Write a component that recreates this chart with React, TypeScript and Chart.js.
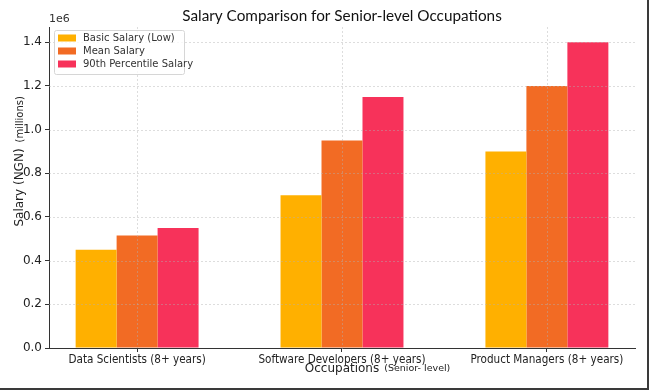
import React, { useEffect, useRef } from "react";
import { Chart, registerables } from "chart.js";

Chart.register(...registerables);

const categories = [
  "Data Scientists (8+ years)",
  "Software Developers (8+ years)",
  "Product Managers (8+ years)",
];
const basicSalary = [450000, 700000, 900000];
const meanSalary = [515000, 950000, 1200000];
const p90Salary = [550000, 1150000, 1400000];
const yTicks = [0, 200000, 400000, 600000, 800000, 1000000, 1200000, 1400000];
const seriesNames = ["Basic Salary (Low)", "Mean Salary", "90th Percentile Salary"];
const seriesColors = ["#FFB000", "#F26B24", "#F7325A"];

const W = 650;
const H = 391;
const FONT = "'DejaVu Sans', sans-serif";
const CFONT = "'DejaVu Sans Condensed', 'DejaVu Sans', sans-serif";

export default function App() {
  const ref = useRef<HTMLCanvasElement | null>(null);

  useEffect(() => {
    document.body.style.margin = "0";
    const canvas = ref.current;
    if (!canvas) return;

    const overlay = {
      id: "overlay",
      afterDatasetsDraw(chart: any) {
        const ctx = chart.ctx;
        const { left, right, top, bottom } = chart.chartArea;
        const xs = chart.scales.x;
        const ys = chart.scales.y;
        ctx.save();
        ctx.strokeStyle = "rgba(176,176,176,0.55)";
        ctx.lineWidth = 0.8;
        ctx.setLineDash([2, 2]);
        yTicks.forEach((v) => {
          if (v === 0) return;
          const y = Math.round(ys.getPixelForValue(v)) + 0.5;
          ctx.beginPath();
          ctx.moveTo(left, y);
          ctx.lineTo(right, y);
          ctx.stroke();
        });
        categories.forEach((_, i) => {
          const x = Math.round(xs.getPixelForValue(i)) + 0.5;
          ctx.beginPath();
          ctx.moveTo(x, top);
          ctx.lineTo(x, bottom);
          ctx.stroke();
        });
        ctx.setLineDash([]);
        ctx.restore();
      },
      afterDraw(chart: any) {
        const ctx = chart.ctx;
        const { left, right, top, bottom } = chart.chartArea;
        const cx = (left + right) / 2;
        ctx.save();
        // title
        ctx.fillStyle = "#111";
        ctx.font = "15.3px Lato, sans-serif";
        ctx.textAlign = "center";
        ctx.textBaseline = "middle";
        ctx.fillText("Salary Comparison for Senior-level Occupations", cx, 16);
        // 1e6
        ctx.font = "11px " + FONT;
        ctx.fillStyle = "#333";
        ctx.textAlign = "left";
        ctx.fillText("1e6", left, 19);
        // x title
        ctx.font = "12px " + FONT;
        ctx.textAlign = "center";
        ctx.fillStyle = "#222";
        const xt = "Occupations";
        ctx.fillText(xt, cx, 369);
        const xtw = ctx.measureText(xt).width;
        ctx.font = "9.5px " + FONT;
        ctx.textAlign = "left";
        ctx.fillText("(Senior- level)", cx + xtw / 2 + 5, 369);
        // y title
        ctx.translate(20, (top + bottom) / 2);
        ctx.rotate(-Math.PI / 2);
        ctx.font = "12px " + FONT;
        ctx.textAlign = "center";
        const yt = "Salary (NGN)";
        ctx.fillText(yt, 0, 0);
        const ytw = ctx.measureText(yt).width;
        ctx.font = "10px " + FONT;
        ctx.textAlign = "left";
        ctx.fillText("(millions)", ytw / 2 + 6, 0);
        ctx.setTransform(1, 0, 0, 1, 0, 0);
        // legend
        const lx = 54, ly = 30, lw = 130, lh = 44;
        ctx.fillStyle = "rgba(255,255,255,0.8)";
        ctx.strokeStyle = "#d6d6d6";
        ctx.lineWidth = 1;
        ctx.beginPath();
        (ctx as any).roundRect(lx + 0.5, ly + 0.5, lw, lh, 2);
        ctx.fill();
        ctx.stroke();
        seriesNames.forEach((name, i) => {
          const ry = 38 + i * 13;
          ctx.fillStyle = seriesColors[i];
          ctx.fillRect(58, ry - 3.5, 18, 7);
          ctx.fillStyle = "#333";
          ctx.font = "10px " + FONT;
          ctx.textAlign = "left";
          ctx.textBaseline = "middle";
          ctx.fillText(name, 83, ry);
        });
        // frame
        ctx.fillStyle = "#3a3a3a";
        ctx.fillRect(647, 0, 2, 390);
        ctx.fillRect(0, 388, 649, 2);
        ctx.restore();
      },
    };

    const chart = new Chart(canvas, {
      type: "bar",
      data: {
        datasets: [basicSalary, meanSalary, p90Salary].map((arr, k) => ({
          label: seriesNames[k],
          data: arr.map((v, i) => ({ x: i, y: v })),
          backgroundColor: seriesColors[k],
          borderWidth: 0,
          barPercentage: 1,
          categoryPercentage: 0.6,
        })),
      },
      options: {
        responsive: false,
        animation: false,
        events: [],
        layout: { padding: { top: 27, right: 15, left: 0, bottom: 0 } },
        plugins: { legend: { display: false }, title: { display: false }, tooltip: { enabled: false } },
        scales: {
          x: {
            type: "linear",
            offset: false,
            min: -0.43,
            max: 2.43,
            afterBuildTicks: (s: any) => {
              s.ticks = categories.map((_, i) => ({ value: i }));
            },
            afterFit: (s: any) => {
              s.height = H - 348;
            },
            ticks: {
              autoSkip: false,
              maxRotation: 0,
              padding: 1,
              color: "#222",
              font: { family: CFONT, size: 11.6 },
              callback: (v: any) => categories[v as number] ?? "",
            },
            grid: { drawOnChartArea: false, drawTicks: true, tickLength: 4, tickColor: "#333", offset: false },
            border: { display: true, color: "#333", width: 1 },
          },
          y: {
            min: 0,
            max: 1470000,
            afterBuildTicks: (s: any) => {
              s.ticks = yTicks.map((v) => ({ value: v }));
            },
            afterFit: (s: any) => {
              s.width = 49;
            },
            ticks: {
              padding: 3,
              color: "#222",
              font: { family: FONT, size: 12 },
              callback: (v: any) => ((v as number) / 1e6).toFixed(1),
            },
            grid: { drawOnChartArea: false, drawTicks: true, tickLength: 4, tickColor: "#333" },
            border: { display: true, color: "#333", width: 1 },
          },
        },
      },
      plugins: [overlay],
    } as any);

    return () => chart.destroy();
  }, []);

  return (
    <div style={{ position: "fixed", left: 0, top: 0, width: W, height: H, background: "#fff" }}>
      <canvas ref={ref} width={W} height={H} style={{ width: W, height: H, display: "block" }} />
    </div>
  );
}
